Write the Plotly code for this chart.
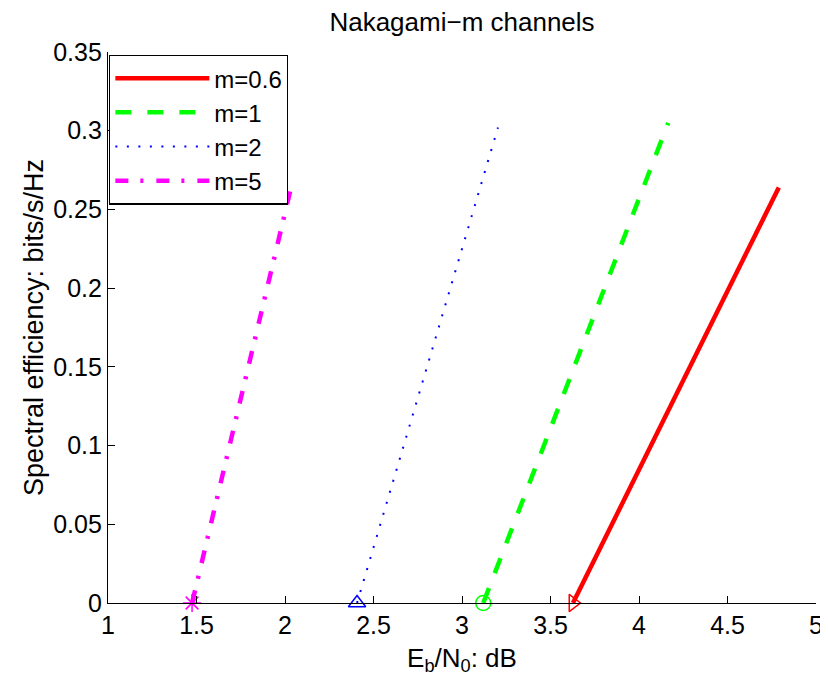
import plotly.graph_objects as go

# Data (Eb/N0 in dB, spectral efficiency in bits/s/Hz)
labels = ["m=0.6", "m=1", "m=2", "m=5"]
ebn0_m06 = [3.627, 4.79]
se_m06 = [0.0, 0.264]
ebn0_m1 = [3.12, 4.165]
se_m1 = [0.0, 0.305]
ebn0_m2 = [2.407, 3.203]
se_m2 = [0.0, 0.302]
ebn0_m5 = [1.475, 2.03]
se_m5 = [0.0, 0.262]

xs = [ebn0_m06, ebn0_m1, ebn0_m2, ebn0_m5]
ys = [se_m06, se_m1, se_m2, se_m5]
colors = ["#ff0000", "#00ff00", "#0000ff", "#ff00ff"]
widths = [4.5, 4.5, 2, 4.5]
dashes = ["solid", "16px,16px", "2px,9.5px", "13px,12px,3px,13px"]
symbols = ["triangle-right-open", "circle-open", "triangle-up-open", "asterisk-open"]

FONT = "Liberation Sans, Arial, Helvetica, sans-serif"

# the page body adds an 8px offset; the figure is sized to compensate
W, H = 820, 670

fig = go.Figure()
for x, y, c, w, d, lab in zip(xs, ys, colors, widths, dashes, labels):
    fig.add_trace(go.Scatter(x=x, y=y, mode="lines", name=lab,
                             line=dict(color=c, width=w, dash=d)))
for x, y, c, s in zip(xs, ys, colors, symbols):
    fig.add_trace(go.Scatter(x=[x[0]], y=[y[0]], mode="markers", showlegend=False,
                             cliponaxis=False,
                             marker=dict(symbol=s, size=15, color=c,
                                         line=dict(color=c, width=1.5))))

fig.update_layout(
    width=W, height=H,
    margin=dict(l=100, r=12, t=44, b=75, autoexpand=False),
    paper_bgcolor="white", plot_bgcolor="white",
    font=dict(family=FONT, size=25, color="black"),
    title=dict(text="Nakagami\u2212m channels", x=0.5, xref="paper",
               y=1 - 14 / H, yref="container", yanchor="middle",
               font=dict(size=26, color="black")),
    legend=dict(x=0.0015, y=0.995, xanchor="left", yanchor="top",
                bgcolor="white", bordercolor="black", borderwidth=1.3,
                font=dict(size=24), itemwidth=94),
    showlegend=True,
)
fig.update_xaxes(range=[1, 5], dtick=0.5, tick0=1, showgrid=False, zeroline=False,
                 showline=True, linecolor="black", linewidth=1.2,
                 ticks="inside", ticklen=7, tickcolor="black", tickwidth=1.2,
                 tickfont=dict(size=25),
                 title=dict(text="E<sub>b</sub>/N<sub>0</sub>: dB", standoff=10,
                            font=dict(size=26)))
fig.update_yaxes(range=[0, 0.35], dtick=0.05, tick0=0, showgrid=False, zeroline=False,
                 showline=True, linecolor="black", linewidth=1.2,
                 ticks="inside", ticklen=7, tickcolor="black", tickwidth=1.2,
                 tickfont=dict(size=25), ticklabelstandoff=0,
                 title=dict(text="Spectral efficiency: bits/s/Hz", standoff=1,
                            font=dict(size=27)))

fig.write_html("out.html")
